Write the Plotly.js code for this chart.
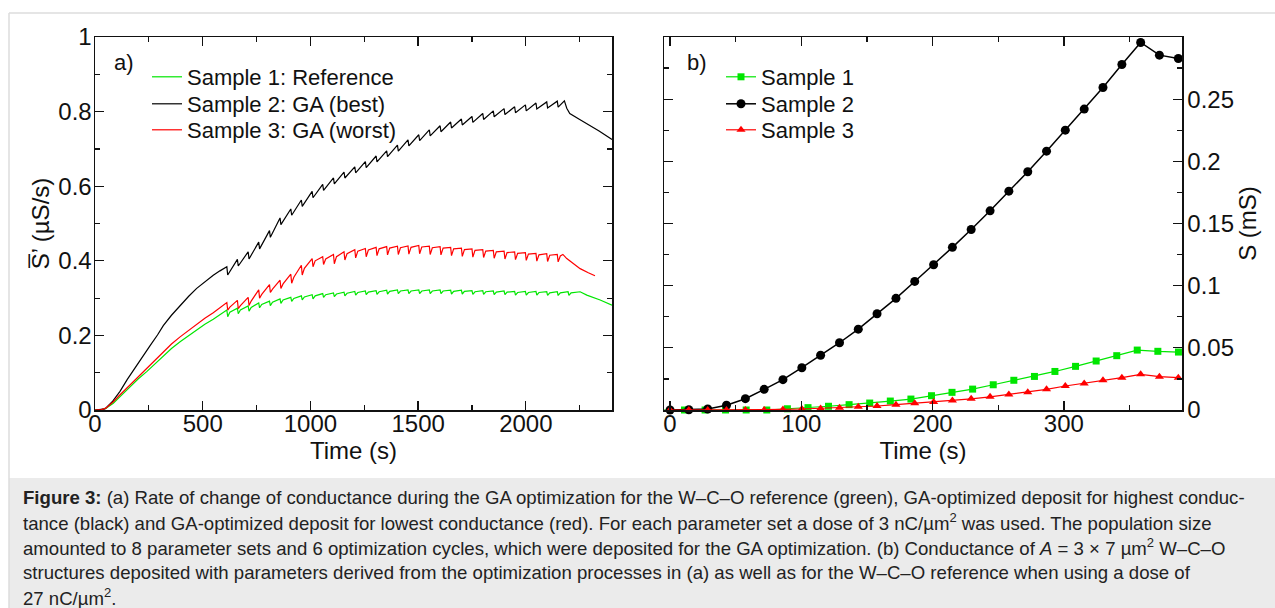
<!DOCTYPE html>
<html>
<head>
<meta charset="utf-8">
<script src="https://cdn.plot.ly/plotly-3.0.1.min.js"></script>
<style>html,body{margin:0;padding:0;background:#fff;}#chart{width:1275px;height:608px;}</style>
</head>
<body>
<div id="chart"></div>
<script>
// ---------- Panel a) : rate of change of conductance (µS/s) vs time (s) ----------
const aSample1T = [0,30,50,85,120,162,200,240,280,317,355,395,435,472,510,549,580,
  612,616,626, 661,665,675, 711,715,725, 760,764,774, 810,814,824, 859,863,873, 909,913,923,
  958,962,972, 1008,1012,1022, 1057,1061,1071, 1107,1111,1121, 1156,1160,1170, 1206,1210,1220,
  1255,1259,1269, 1305,1309,1319, 1354,1358,1368, 1404,1408,1418, 1453,1457,1467, 1503,1507,1517,
  1552,1556,1566, 1602,1606,1616, 1651,1655,1665, 1701,1705,1715, 1750,1754,1764, 1800,1804,1814,
  1849,1853,1863, 1899,1903,1913, 1948,1952,1962, 1998,2002,2012, 2047,2051,2061, 2097,2101,2111,
  2146,2150,2160, 2196,2200,2210, 2252,2283,2345,2400];
const aSample1V = [0,0.001,0.004,0.018,0.038,0.062,0.083,0.103,0.125,0.145,0.165,0.183,0.200,0.216,0.230,0.243,0.256,
  0.268,0.250,0.262, 0.273,0.258,0.268, 0.279,0.265,0.275, 0.287,0.274,0.283, 0.292,0.280,0.289, 0.298,0.286,0.295, 0.302,0.291,0.299,
  0.306,0.295,0.303, 0.309,0.298,0.306, 0.312,0.302,0.309, 0.314,0.304,0.311, 0.316,0.306,0.313, 0.318,0.308,0.315,
  0.319,0.309,0.316, 0.320,0.310,0.317, 0.321,0.311,0.318, 0.322,0.312,0.319, 0.322,0.312,0.319, 0.322,0.312,0.319,
  0.322,0.312,0.319, 0.322,0.312,0.319, 0.321,0.311,0.318, 0.321,0.311,0.318, 0.320,0.310,0.317, 0.320,0.310,0.317,
  0.319,0.309,0.316, 0.319,0.309,0.316, 0.318,0.308,0.315, 0.318,0.308,0.315, 0.318,0.308,0.315, 0.317,0.307,0.314,
  0.317,0.307,0.314, 0.317,0.307,0.314, 0.317,0.308,0.295,0.281];

const aSample2T = [0,20,46,80,116,150,186,220,255,290,317,355,395,435,472,510,549,580,
  612,616, 661,665, 711,715, 760,764, 810,814, 859,863, 909,913, 958,962, 1008,1012, 1057,1061,
  1107,1111, 1156,1160, 1206,1210, 1255,1259, 1305,1309, 1354,1358, 1404,1408, 1453,1457, 1503,1507,
  1552,1556, 1602,1606, 1651,1655, 1701,1705, 1750,1754, 1800,1804, 1849,1853, 1899,1903, 1948,1952,
  1998,2002, 2047,2051, 2097,2101, 2146,2150, 2179,2190,2204,2250,2283,2340,2400];
const aSample2V = [0,0.001,0.003,0.022,0.050,0.082,0.114,0.144,0.172,0.201,0.226,0.254,0.281,0.305,0.326,0.344,0.361,0.373,
  0.384,0.362, 0.404,0.386, 0.424,0.405, 0.450,0.432, 0.481,0.463, 0.515,0.497, 0.539,0.522, 0.563,0.546, 0.586,0.569, 0.605,0.589,
  0.622,0.606, 0.638,0.622, 0.652,0.636, 0.666,0.650, 0.681,0.665, 0.695,0.679, 0.710,0.694, 0.724,0.708, 0.738,0.722,
  0.751,0.735, 0.762,0.746, 0.772,0.756, 0.780,0.764, 0.787,0.771, 0.795,0.779, 0.802,0.786, 0.808,0.792, 0.813,0.797,
  0.818,0.802, 0.823,0.807, 0.826,0.810, 0.828,0.812, 0.829,0.809,0.795,0.779,0.768,0.748,0.725];

const aSample3T = [0,30,50,85,120,162,200,240,280,317,355,395,435,472,510,549,580,
  612,616,626, 661,665,675, 711,715,725, 760,764,774, 810,814,824, 859,863,873, 909,913,923,
  958,962,972, 1008,1012,1022, 1057,1061,1071, 1107,1111,1121, 1156,1160,1170, 1206,1210,1220,
  1255,1259,1269, 1305,1309,1319, 1354,1358,1368, 1404,1408,1418, 1453,1457,1467, 1503,1507,1517,
  1552,1556,1566, 1602,1606,1616, 1651,1655,1665, 1701,1705,1715, 1750,1754,1764, 1800,1804,1814,
  1849,1853,1863, 1899,1903,1913, 1948,1952,1962, 1998,2002,2012, 2047,2051,2061, 2097,2101,2111,
  2146,2150,2160, 2172,2190,2220,2252,2290,2321];
const aSample3V = [0,0.001,0.005,0.022,0.043,0.067,0.090,0.112,0.135,0.156,0.177,0.196,0.214,0.230,0.246,0.261,0.274,
  0.288,0.268,0.276, 0.294,0.272,0.280, 0.302,0.280,0.292, 0.322,0.300,0.310, 0.336,0.315,0.324, 0.348,0.326,0.338, 0.364,0.340,0.356,
  0.388,0.362,0.380, 0.406,0.384,0.400, 0.411,0.390,0.405, 0.417,0.392,0.411, 0.424,0.402,0.419, 0.430,0.408,0.426,
  0.433,0.411,0.429, 0.436,0.414,0.432, 0.438,0.416,0.434, 0.439,0.417,0.435, 0.440,0.418,0.436, 0.441,0.419,0.437,
  0.439,0.417,0.435, 0.438,0.416,0.434, 0.436,0.414,0.432, 0.434,0.412,0.430, 0.432,0.410,0.428, 0.430,0.409,0.426,
  0.428,0.407,0.424, 0.426,0.405,0.422, 0.424,0.403,0.420, 0.422,0.401,0.418, 0.420,0.399,0.416, 0.419,0.398,0.415,
  0.417,0.397,0.413, 0.417,0.406,0.392,0.379,0.368,0.360];

// ---------- Panel b) : conductance S (mS) vs time (s) ----------
const bSample1T = [-4.7,11.0,26.7,42.3,58.0,73.7,89.4,105.1,120.7,136.4,152.1,167.8,183.5,199.2,214.8,230.5,246.2,261.9,277.6,293.2,308.9,324.6,340.3,355.9,371.6,387.3];
const bSample1V = [0,0,0,0,0,0,0.0010,0.0019,0.0030,0.0043,0.0056,0.0072,0.0088,0.0115,0.0142,0.0168,0.0203,0.0239,0.0270,0.0310,0.0351,0.0394,0.0437,0.0482,0.0472,0.0466];
const bSample2T = [0,14.3,28.7,43.0,57.4,71.7,86.0,100.4,114.7,129.1,143.4,157.7,172.1,186.4,200.8,215.1,229.4,243.8,258.1,272.5,286.8,301.1,315.5,329.8,344.2,358.5,372.8,387.2];
const bSample2V = [0,0.0002,0.0008,0.0038,0.0091,0.0166,0.0244,0.0340,0.0440,0.0541,0.0650,0.0774,0.0898,0.1034,0.1168,0.1308,0.1452,0.1602,0.1760,0.1916,0.2082,0.2251,0.2420,0.2594,0.2779,0.2956,0.2854,0.2827];
const bSample3T = [0,14.3,28.7,43.0,57.4,71.7,86.0,100.4,114.7,129.1,143.4,157.7,172.1,186.4,200.8,215.1,229.4,243.8,258.1,272.5,286.8,301.1,315.5,329.8,344.2,358.5,372.8,387.2];
const bSample3V = [0,0,0,0,0,0,0.0005,0.0008,0.0013,0.0019,0.0027,0.0032,0.0043,0.0054,0.0064,0.0076,0.0090,0.0106,0.0124,0.0143,0.0166,0.0193,0.0214,0.0239,0.0260,0.0287,0.0268,0.0260];

const legendA = ['Sample 1: Reference','Sample 2: GA (best)','Sample 3: GA (worst)'];
const legendB = ['Sample 1','Sample 2','Sample 3'];
const colors = ['#00e600','#000000','#ff0000'];
const yTicksA = [0,0.2,0.4,0.6,0.8,1];
const yTicksB = [0,0.05,0.1,0.15,0.2,0.25];

const captionLines = [
  '<b>Figure 3:</b> (a) Rate of change of conductance during the GA optimization for the W–C–O reference (green), GA-optimized deposit for highest conduc-',
  'tance (black) and GA-optimized deposit for lowest conductance (red). For each parameter set a dose of 3 nC/µm<sup>2</sup> was used. The population size',
  'amounted to 8 parameter sets and 6 optimization cycles, which were deposited for the GA optimization. (b) Conductance of <i>A</i> = 3 × 7 µm<sup>2</sup> W–C–O',
  'structures deposited with parameters derived from the optimization processes in (a) as well as for the W–C–O reference when using a dose of',
  '27 nC/µm<sup>2</sup>.'
];

const W = 1275, H = 608;
const px = x => x / W;
const py = y => 1 - y / H;

const traces = [
  {x:aSample1T, y:aSample1V, name:legendA[0], type:'scatter', mode:'lines', line:{color:colors[0], width:1.2}, xaxis:'x', yaxis:'y', legend:'legend'},
  {x:aSample2T, y:aSample2V, name:legendA[1], type:'scatter', mode:'lines', line:{color:colors[1], width:1.2}, xaxis:'x', yaxis:'y', legend:'legend2'},
  {x:aSample3T, y:aSample3V, name:legendA[2], type:'scatter', mode:'lines', line:{color:colors[2], width:1.2}, xaxis:'x', yaxis:'y', legend:'legend3'},
  {x:bSample1T, y:bSample1V, name:legendB[0], type:'scatter', mode:'lines+markers', line:{color:colors[0], width:1.2}, marker:{symbol:'square', size:7, color:colors[0]}, xaxis:'x2', yaxis:'y2', legend:'legend4', cliponaxis:false},
  {x:bSample2T, y:bSample2V, name:legendB[1], type:'scatter', mode:'lines+markers', line:{color:colors[1], width:1.5}, marker:{symbol:'circle', size:9, color:colors[1]}, xaxis:'x2', yaxis:'y2', legend:'legend5', cliponaxis:false},
  {x:bSample3T, y:bSample3V, name:legendB[2], type:'scatter', mode:'lines+markers', line:{color:colors[2], width:1.2}, marker:{symbol:'triangle-up', size:8, color:colors[2]}, xaxis:'x2', yaxis:'y2', legend:'legend6', cliponaxis:false}
];

const FONT = 'Liberation Sans, Arial, Helvetica, sans-serif';
const axisCommon = {
  showline:true, mirror:'ticks', linecolor:'#111', linewidth:1.5,
  ticks:'inside', ticklen:9, tickwidth:1.3, tickcolor:'#111',
  showgrid:false, zeroline:false, tickfont:{size:24, family:FONT, color:'#111'},
};

function legendAt(x, y) {
  return {x:px(x), y:py(y), xanchor:'left', yanchor:'middle', bgcolor:'rgba(0,0,0,0)', borderwidth:0,
          font:{size:22, family:FONT, color:'#111'}, tracegroupgap:0, itemwidth:30};
}

const layout = {
  width:W, height:H, margin:{l:0, r:0, t:0, b:0},
  paper_bgcolor:'#ffffff', plot_bgcolor:'#ffffff',
  font:{family:FONT, color:'#111', size:24},
  showlegend:true,
  xaxis: Object.assign({}, axisCommon, {
    domain:[px(95), px(612)], range:[0,2400], anchor:'y', dtick:500, tick0:0, ticklabelstandoff:-8,
    minor:{ticks:'inside', ticklen:5, dtick:250, tick0:0, tickcolor:'#111', tickwidth:1.2},
    title:{text:'Time (s)', font:{size:24}, standoff:0}
  }),
  yaxis: Object.assign({}, axisCommon, {
    domain:[py(410), py(37)], range:[0,1], anchor:'x', tickmode:'array', tickvals:yTicksA, ticklabelstandoff:-3,
    minor:{ticks:'inside', ticklen:5, dtick:0.1, tick0:0, tickcolor:'#111', tickwidth:1.2},
    title:{text:'S\u0305\u2019 (\u00b5S/s)', font:{size:24}, standoff:2}
  }),
  xaxis2: Object.assign({}, axisCommon, {
    domain:[px(664), px(1182)], range:[-4.6,390], anchor:'y2', dtick:100, tick0:0, ticklabelstandoff:-8,
    minor:{ticks:'inside', ticklen:5, dtick:50, tick0:0, tickcolor:'#111', tickwidth:1.2},
    title:{text:'Time (s)', font:{size:24}, standoff:0}
  }),
  yaxis2: Object.assign({}, axisCommon, {
    domain:[py(410), py(37)], range:[0,0.3], anchor:'x2', side:'right', tickmode:'array', tickvals:yTicksB, ticklabelstandoff:-1,
    minor:{ticks:'inside', ticklen:5, dtick:0.025, tick0:0, tickcolor:'#111', tickwidth:1.2},
    title:{text:'S (mS)', font:{size:24}, standoff:2}
  }),
  legend: legendAt(147, 77),
  legend2: legendAt(147, 104),
  legend3: legendAt(147, 130),
  legend4: legendAt(721, 77),
  legend5: legendAt(721, 104),
  legend6: legendAt(721, 130),
  shapes:[
    {type:'rect', xref:'paper', yref:'paper', x0:px(9), x1:1, y0:0, y1:py(478), fillcolor:'#ebebeb', line:{width:0}, layer:'below'},
    {type:'line', xref:'paper', yref:'paper', x0:px(9), x1:1, y0:py(13), y1:py(13), line:{color:'#dcdcdc', width:1.5}},
    {type:'line', xref:'paper', yref:'paper', x0:px(9), x1:px(9), y0:py(13), y1:0, line:{color:'#dcdcdc', width:1.5}}
  ],
  annotations:[
    {xref:'paper', yref:'paper', x:px(112), y:py(62), xanchor:'left', yanchor:'middle', text:'a)', showarrow:false, font:{size:22, family:FONT, color:'#111'}},
    {xref:'paper', yref:'paper', x:px(685), y:py(62), xanchor:'left', yanchor:'middle', text:'b)', showarrow:false, font:{size:22, family:FONT, color:'#111'}}
  ]
};

const capY = [497, 522, 547, 572, 597];
captionLines.forEach((t, i) => {
  layout.annotations.push({xref:'paper', yref:'paper', x:px(21), y:py(capY[i]), xanchor:'left', yanchor:'middle',
    text:t, showarrow:false, align:'left', font:{size:18.6, family:FONT, color:'#222'}});
});

Plotly.newPlot('chart', traces, layout, {displayModeBar:false, responsive:false, staticPlot:true});
</script>
</body>
</html>
